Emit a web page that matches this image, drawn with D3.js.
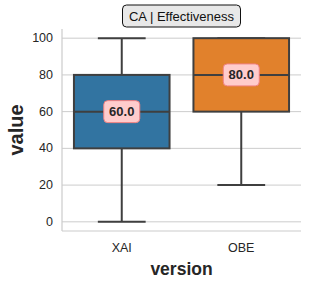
<!DOCTYPE html>
<html>
<head>
<meta charset="utf-8">
<script src="https://cdn.jsdelivr.net/npm/d3@7"></script>
<style>
  body { margin: 0; background: #fff; }
  text { font-family: "Liberation Sans", Arial, sans-serif; }
</style>
</head>
<body>
<div id="plot-container"></div>
<script>
const versions = ['XAI', 'OBE'];
const mins = [0, 20];
const q1s = [40, 60];
const medians = [60, 80];
const q3s = [80, 100];
const maxs = [100, 100];
const boxColors = ['#3274a1', '#e1812c'];
const yTicks = [0, 20, 40, 60, 80, 100];

const margin = { top: 29, right: 14, bottom: 57, left: 62 };
const width = 315 - margin.left - margin.right;
const height = 288 - margin.top - margin.bottom;

const svg = d3.select('#plot-container')
  .append('svg')
  .attr('width', 315)
  .attr('height', 288);

const g = svg.append('g')
  .attr('transform', `translate(${margin.left},${margin.top})`);

const x = d3.scaleBand().domain(versions).range([0, width]);
const y = d3.scaleLinear().domain([-5, 105]).range([height, 0]);

// Grid lines
yTicks.forEach(t => {
  g.append('line')
    .attr('x1', 0).attr('x2', width)
    .attr('y1', y(t)).attr('y2', y(t))
    .attr('stroke', '#cccccc').attr('stroke-width', 1);
  g.append('text')
    .attr('x', -9).attr('y', y(t))
    .attr('text-anchor', 'end')
    .attr('dominant-baseline', 'central')
    .style('font-size', '12.5px')
    .style('fill', '#262626')
    .text(t);
});

// Spines (left and bottom)
g.append('line').attr('x1', 0).attr('x2', 0).attr('y1', 0).attr('y2', height)
  .attr('stroke', '#cccccc').attr('stroke-width', 1.2);
g.append('line').attr('x1', 0).attr('x2', width).attr('y1', height).attr('y2', height)
  .attr('stroke', '#cccccc').attr('stroke-width', 1.2);

const lineColor = '#3f3f3f';
versions.forEach((v, i) => {
  const cx = x(v) + x.bandwidth() / 2;
  const bw = x.bandwidth() * 0.8;
  const capW = bw / 2;
  // whiskers
  g.append('line').attr('x1', cx).attr('x2', cx).attr('y1', y(q1s[i])).attr('y2', y(mins[i]))
    .attr('stroke', lineColor).attr('stroke-width', 2);
  g.append('line').attr('x1', cx).attr('x2', cx).attr('y1', y(q3s[i])).attr('y2', y(maxs[i]))
    .attr('stroke', lineColor).attr('stroke-width', 2);
  g.append('line').attr('x1', cx - capW / 2).attr('x2', cx + capW / 2).attr('y1', y(mins[i])).attr('y2', y(mins[i]))
    .attr('stroke', lineColor).attr('stroke-width', 2);
  g.append('line').attr('x1', cx - capW / 2).attr('x2', cx + capW / 2).attr('y1', y(maxs[i])).attr('y2', y(maxs[i]))
    .attr('stroke', lineColor).attr('stroke-width', 2);
  // box
  g.append('rect')
    .attr('x', cx - bw / 2).attr('y', y(q3s[i]))
    .attr('width', bw).attr('height', y(q1s[i]) - y(q3s[i]))
    .attr('fill', boxColors[i])
    .attr('stroke', lineColor).attr('stroke-width', 2);
  // median
  g.append('line').attr('x1', cx - bw / 2).attr('x2', cx + bw / 2).attr('y1', y(medians[i])).attr('y2', y(medians[i]))
    .attr('stroke', lineColor).attr('stroke-width', 2);
  // median label
  const lbl = g.append('g').attr('transform', `translate(${cx},${y(medians[i])})`);
  lbl.append('rect')
    .attr('x', -18).attr('y', -11).attr('width', 36).attr('height', 22)
    .attr('rx', 4).attr('ry', 4)
    .attr('fill', '#ffcccc').attr('stroke', '#f08080').attr('stroke-width', 1);
  lbl.append('text')
    .attr('text-anchor', 'middle').attr('dominant-baseline', 'central')
    .style('font-size', '13px').style('font-weight', 'bold').style('fill', '#262626')
    .text(medians[i].toFixed(1));
  // x tick label
  g.append('text')
    .attr('x', cx).attr('y', height + 17)
    .attr('text-anchor', 'middle').attr('dominant-baseline', 'central')
    .style('font-size', '12.5px').style('fill', '#262626')
    .text(v);
});

// Axis labels
svg.append('text')
  .attr('x', margin.left + width / 2).attr('y', 275)
  .attr('text-anchor', 'middle')
  .style('font-size', '17.5px').style('font-weight', 'bold').style('fill', '#262626')
  .text('version');
svg.append('text')
  .attr('transform', `translate(23,${margin.top + height / 2}) rotate(-90)`)
  .attr('text-anchor', 'middle')
  .style('font-size', '20px').style('font-weight', 'bold').style('fill', '#262626')
  .text('value');

// Title box
const title = svg.append('g').attr('transform', `translate(${margin.left + width / 2},16)`);
title.append('rect')
  .attr('x', -59).attr('y', -11).attr('width', 118).attr('height', 22)
  .attr('rx', 4).attr('ry', 4)
  .attr('fill', '#e8e8e8').attr('stroke', '#111').attr('stroke-width', 1);
title.append('text')
  .attr('text-anchor', 'middle').attr('dominant-baseline', 'central')
  .style('font-size', '13px').style('fill', '#111')
  .text('CA | Effectiveness');
</script>
</body>
</html>
